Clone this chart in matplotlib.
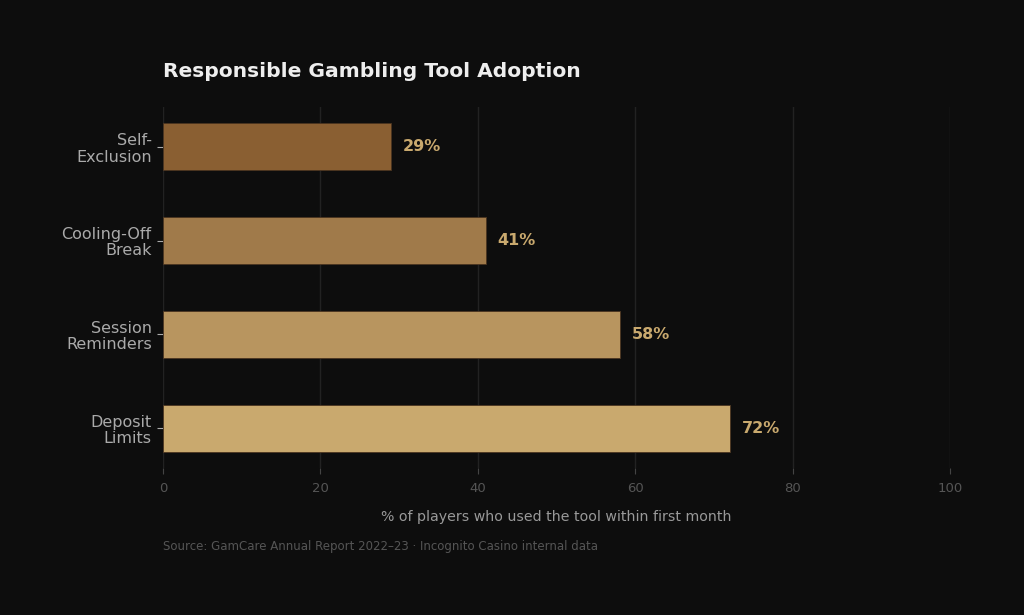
import matplotlib
matplotlib.use("Agg")
import matplotlib.pyplot as plt

categories = ["Self-\nExclusion", "Cooling-Off\nBreak", "Session\nReminders", "Deposit\nLimits"]
values = [29, 41, 58, 72]
colors = ["#8a5f32", "#a07a4a", "#b8955f", "#c9a96e"]
xticks = [0, 20, 40, 60, 80, 100]

bg = "#0d0d0d"
fig = plt.figure(figsize=(10.24, 6.15), dpi=100, facecolor=bg)
ax = fig.add_axes([0.159, 0.239, 0.769, 0.587], facecolor=bg)

ypos = list(range(len(categories)))[::-1]
ax.barh(ypos, values, height=0.5, color=colors, edgecolor="#4a3420", linewidth=0.6, zorder=3)
for y, v in zip(ypos, values):
    ax.text(v + 1.5, y, f"{v}%", va="center", ha="left", color="#c9a96e",
            fontsize=11.5, fontweight="bold", zorder=4)

ax.set_xlim(0, 100)
ax.set_xticks(xticks)
ax.set_yticks(ypos)
ax.set_yticklabels(categories, fontsize=11.5, color="#cccccc", linespacing=1.1)
ax.tick_params(axis="x", colors="#444444", labelcolor="#555555", labelsize=9.5, length=4, pad=6)
ax.tick_params(axis="y", colors="#aaaaaa", length=4, pad=4)
for s in ax.spines.values():
    s.set_visible(False)
ax.grid(axis="x", color="#222222", linewidth=1, zorder=0)
ax.set_axisbelow(True)

ax.set_xlabel("% of players who used the tool within first month", color="#999999",
              fontsize=10.2, labelpad=11)
fig.text(0.159, 0.884, "Responsible Gambling Tool Adoption", color="#eeeeee",
         fontsize=14.6, fontweight="bold", ha="left", va="center")
fig.text(0.159, 0.111, "Source: GamCare Annual Report 2022–23 · Incognito Casino internal data",
         color="#555555", fontsize=8.5, ha="left", va="center")

fig.savefig("out.png", dpi=100, facecolor=bg)
